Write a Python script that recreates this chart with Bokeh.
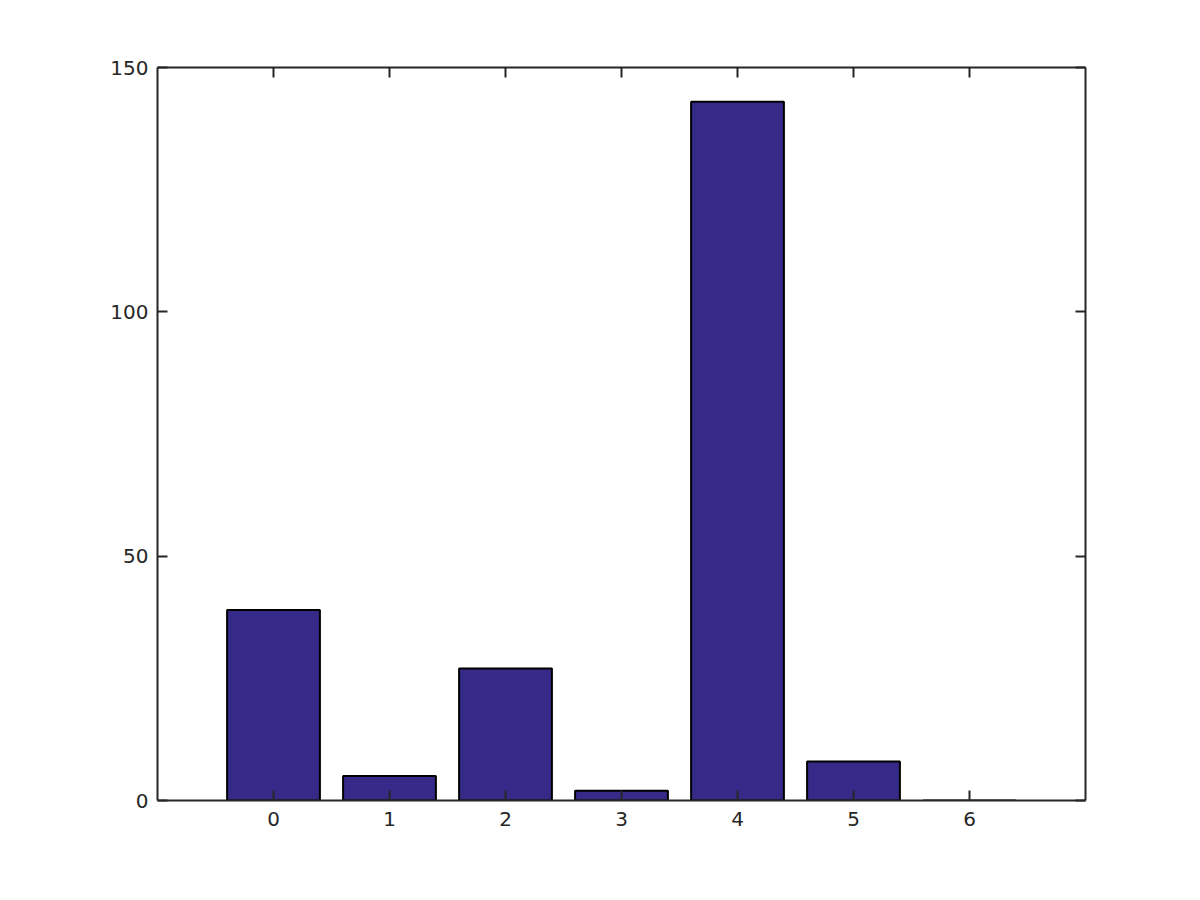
from bokeh.plotting import figure
from bokeh.models import LinearAxis, FixedTicker, CustomJSTickFormatter, Range1d
from bokeh.embed import file_html
from bokeh.resources import INLINE

categories = [0, 1, 2, 3, 4, 5, 6]
counts = [39, 5, 27, 2, 143, 8, 0]
x_ticks = [0, 1, 2, 3, 4, 5, 6]
y_ticks = [0, 50, 100, 150]

AX = "#262626"
FONT = "DejaVu Sans"
FS = "20px"

p = figure(width=1184, height=884, output_backend="svg", toolbar_location=None,
           x_range=Range1d(-1, 7), y_range=Range1d(0, 150),
           x_axis_location="below", y_axis_location="left")
p.min_border_left = 157
p.min_border_right = 99
p.min_border_top = 67
p.min_border_bottom = 84
p.outline_line_color = None
p.xgrid.visible = False
p.ygrid.visible = False
p.background_fill_color = "white"
p.border_fill_color = "white"

p.vbar(x=categories, top=counts, bottom=0, width=0.8,
       fill_color="#352a87", line_color="black", line_width=2)

blank = CustomJSTickFormatter(code="return ''")

def style(ax, ticks, labels=True):
    ax.ticker = FixedTicker(ticks=ticks)
    ax.axis_line_color = AX
    ax.axis_line_width = 2
    ax.major_tick_line_color = AX
    ax.major_tick_line_width = 2
    ax.major_tick_in = 10
    ax.major_tick_out = 0
    ax.minor_tick_line_color = None
    ax.major_label_text_color = AX
    ax.major_label_text_font = FONT
    ax.major_label_text_font_size = FS
    if not labels:
        ax.formatter = blank
        ax.major_label_text_font_size = "0px"

style(p.xaxis[0], x_ticks)
style(p.yaxis[0], y_ticks)
p.xaxis[0].major_label_standoff = 11
p.yaxis[0].major_label_standoff = 9

top = LinearAxis()
style(top, x_ticks, labels=False)
p.add_layout(top, "above")
right = LinearAxis()
style(right, y_ticks, labels=False)
p.add_layout(right, "right")

open("out.html", "w").write(file_html(p, INLINE))
